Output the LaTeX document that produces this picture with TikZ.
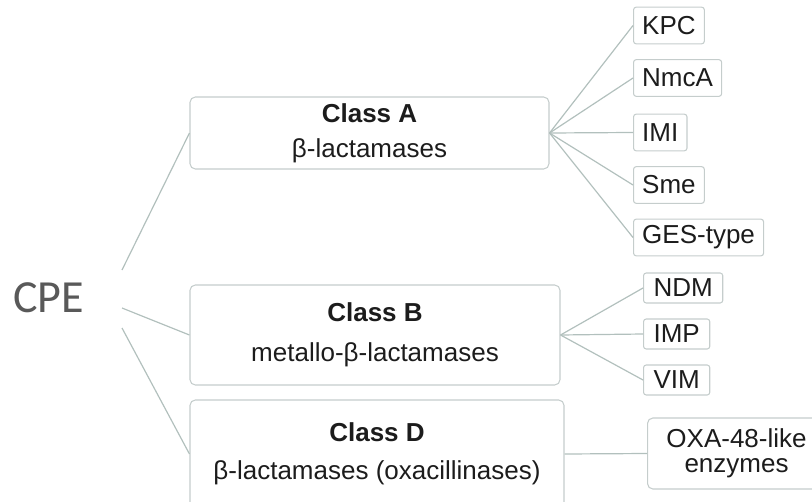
\documentclass[tikz,border=0pt]{standalone}
\usepackage{fontspec}
\setmainfont{Liberation Sans}
\newfontfamily\cpefont{Carlito}
\usepackage{tikz}

\definecolor{linegray}{HTML}{B2C0BD}
\definecolor{boxgray}{HTML}{C5CDCC}
\definecolor{txtdark}{HTML}{1C1C1C}
\definecolor{cpegray}{HTML}{595959}

\begin{document}
\begin{tikzpicture}[x=0.75pt, y=-0.75pt,
  classbox/.style={draw=boxgray, line width=0.8pt, rounded corners=4pt,
    align=center, text=txtdark, inner sep=0pt,
    font=\fontsize{19.5pt}{26pt}\selectfont},
  typebox/.style={draw=boxgray, line width=0.8pt, rounded corners=2pt,
    anchor=west, text=txtdark, inner ysep=0pt,
    font=\fontsize{19.5pt}{23pt}\selectfont},
  link/.style={draw=linegray, line width=0.9pt}]

  % ====== 1) 画布范围（812 x 502 像素） ======
  \useasboundingbox (0,0) rectangle (812,502);
  \clip (0,0) rectangle (812,502);

  % ====== 2) 左侧标题 CPE ======
  \node[anchor=base, inner sep=0pt, text=cpegray,
    font=\cpefont\fontsize{34.5pt}{40pt}\selectfont] (cpe) at (48.5,312) {CPE};
  \coordinate (cpeA) at (122,270);   % 连向 Class A 的起点
  \coordinate (cpeB) at (122,308);   % 连向 Class B 的起点
  \coordinate (cpeD) at (122,328);   % 连向 Class D 的起点

  % ====== 3) 三个大类 ======
  \node[classbox, minimum width=269.25pt, minimum height=54pt] (clA) at (369.5,133)
    {\textbf{Class A}\\β-lactamases};
  \node[classbox, minimum width=277.5pt, minimum height=75pt] (clB) at (375,335)
    {\textbf{Class B}\\[4pt]metallo-β-lactamases};
  \node[classbox, minimum width=280.5pt, minimum height=81pt] (clD) at (377,454)
    {\textbf{Class D}\\[2.5pt]β-lactamases (oxacillinases)};

  % ====== 4) Class A 的酶 ======
  \node[typebox, inner xsep=6.5pt, minimum height=27.5pt] (kpc)  at (633,25.5)  {KPC};
  \node[typebox, inner xsep=6.5pt, minimum height=27.5pt] (nmca) at (633,78)    {NmcA};
  \node[typebox, inner xsep=6.5pt, minimum height=27.5pt] (imi)  at (633,132.5) {IMI};
  \node[typebox, inner xsep=6.5pt, minimum height=27.5pt] (sme)  at (633,185)   {Sme};
  \node[typebox, inner xsep=6.5pt, minimum height=27.5pt] (ges)  at (633,237.5) {GES-type};

  % ====== 5) Class B 的酶 ======
  \node[typebox, inner xsep=7.5pt, minimum height=22.5pt] (ndm) at (643,288) {NDM};
  \node[typebox, inner xsep=7.5pt, minimum height=22.5pt] (imp) at (643,334) {IMP};
  \node[typebox, inner xsep=7.5pt, minimum height=22.5pt] (vim) at (643,380) {VIM};

  % ====== 6) Class D 的酶 ======
  \node[typebox, rounded corners=4pt, align=center, minimum width=133.5pt,
    minimum height=53.25pt, font=\fontsize{19.5pt}{19pt}\selectfont]
    (oxa) at (647,453.5) {OXA-48-like\\enzymes};

  % ====== 7) 连线：CPE -> 大类 ======
  \draw[link] (cpeA) -- (clA.west);
  \draw[link] (cpeB) -- (clB.west);
  \draw[link] (cpeD) -- (clD.west);

  % ====== 8) 连线：大类 -> 酶 ======
  \draw[link] (clA.east) -- (kpc.west);
  \draw[link] (clA.east) -- (nmca.west);
  \draw[link] (clA.east) -- (imi.west);
  \draw[link] (clA.east) -- (sme.west);
  \draw[link] (clA.east) -- (ges.west);

  \draw[link] (clB.east) -- (ndm.west);
  \draw[link] (clB.east) -- (imp.west);
  \draw[link] (clB.east) -- (vim.west);

  \draw[link] (clD.east) -- (oxa.west);

\end{tikzpicture}
\end{document}
